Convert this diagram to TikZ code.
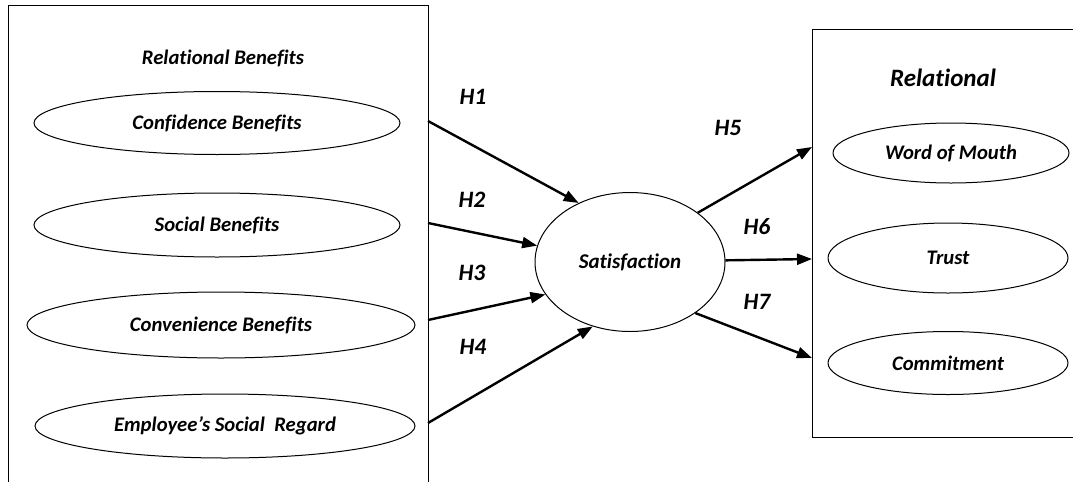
\documentclass[tikz,border=0pt]{standalone}
\usepackage{fontspec}
\setmainfont{Carlito}[Ligatures=NoCommon]
\usetikzlibrary{shapes.geometric,arrows.meta}
\begin{document}
\begin{tikzpicture}[x=1pt,y=-1pt,
  frame/.style={draw=black,line width=1pt},
  oval/.style={draw=black,line width=1pt,ellipse,inner sep=0pt,font=\fontsize{20.7}{22}\selectfont\bfseries\itshape},
  lbl/.style={inner sep=0pt,font=\fontsize{20.7}{22}\selectfont\bfseries\itshape},
  hyp/.style={inner sep=0pt,font=\fontsize{23.5}{25}\selectfont\bfseries\itshape},
  link/.style={draw=black,line width=2.4pt,-{Triangle[length=15pt,width=11pt]}}]
\useasboundingbox (0,0) rectangle (1073,482);
\fill[white] (0,0) rectangle (1073,482);
% left frame (open at the bottom edge)
\draw[frame] (8,482) -- (8,5) -- (428,5) -- (428,482);
% right frame (extends past right edge)
\draw[frame] (1080,29) -- (812,29) -- (812,437) -- (1080,437);
\node[lbl] (rb) at (223,58) {Relational Benefits};
\node[oval,minimum width=366pt,minimum height=63pt] (cb) at (217,123) {Confidence Benefits};
\node[oval,minimum width=366pt,minimum height=64pt] (sb) at (217,225) {Social Benefits};
\node[oval,minimum width=388pt,minimum height=66pt] (cv) at (221,325) {Convenience Benefits};
\node[oval,minimum width=380pt,minimum height=64pt] (er) at (225,426) {Employee’s Social\ \ Regard};
\node[lbl,font=\fontsize{25}{27}\selectfont\bfseries\itshape] (rel) at (943,78) {Relational};
\node[oval,minimum width=236pt,minimum height=60pt] (wm) at (951,153) {Word of Mouth};
\node[oval,minimum width=240pt,minimum height=70pt] (tr) at (948,258) {Trust};
\node[oval,minimum width=240pt,minimum height=63pt] (cm) at (948,363) {Commitment};
\node[oval,minimum width=190pt,minimum height=139pt,font=\fontsize{21}{23}\selectfont\bfseries\itshape] (sat) at (630,262) {Satisfaction};
% connector end points on the frames
\coordinate (l1) at (428,121);
\coordinate (l2) at (428,223);
\coordinate (l3) at (428,320);
\coordinate (l4) at (428,423);
\coordinate (r5) at (812,147);
\coordinate (r6) at (812,259);
\coordinate (r7) at (812,358);
\draw[link] (l1) -- (sat.131);
\draw[link] (l2) -- (sat.170);
\draw[link] (l3) -- (sat.201);
\draw[link] (l4) -- (sat.240);
\draw[link] (sat.36) -- (r5);
\draw[link] (sat.1) -- (r6);
\draw[link] (sat.-38) -- (r7);
\node[hyp] (h1) at (473,97) {H1};
\node[hyp] (h2) at (472,200) {H2};
\node[hyp] (h3) at (472,273) {H3};
\node[hyp] (h4) at (473,347) {H4};
\node[hyp] (h5) at (728,128) {H5};
\node[hyp] (h6) at (757,227) {H6};
\node[hyp] (h7) at (757,302) {H7};
\end{tikzpicture}
\end{document}
